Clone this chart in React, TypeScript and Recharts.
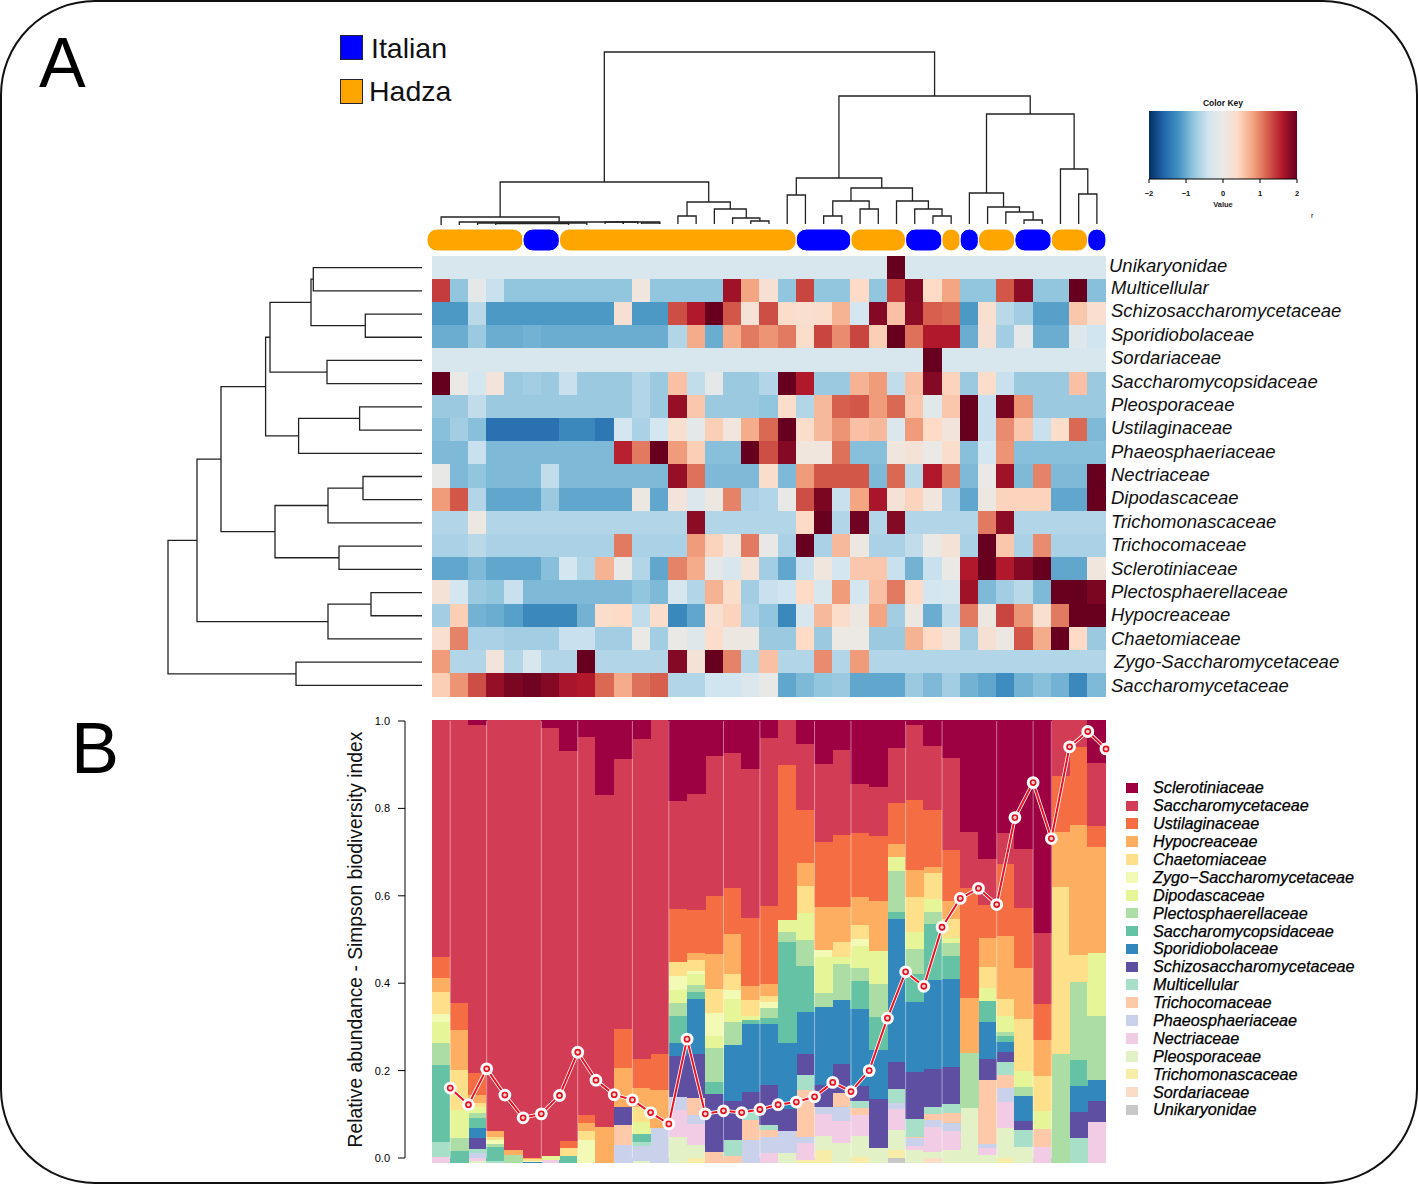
import React from 'react';
import { BarChart, Bar, Cell, XAxis, YAxis, LineChart, Line, ReferenceLine, ScatterChart, Scatter } from 'recharts';

const FONT = '"Liberation Sans", Arial, sans-serif';

// Panel A: heatmap rows, z-scores
const unikaryonidaeZ = [-.3,-.3,-.3,-.3,-.3,-.3,-.3,-.3,-.3,-.3,-.3,-.3,-.3,-.3,-.3,-.3,-.3,-.3,-.3,-.3,-.3,-.3,-.3,-.3,-.3,2,-.3,-.3,-.3,-.3,-.3,-.3,-.3,-.3,-.3,-.3,-.3];
const multicellularZ = [1.4,-.8,-.1,-.45,-.8,-.8,-.8,-.8,-.8,-.8,-.8,.1,-.8,-.8,-.8,-.8,1.7,.8,.25,-.8,1.35,-.8,-.8,.4,-.8,1.4,1.85,.4,.8,-.8,-.8,1.25,1.8,-.8,-.8,2,-.85];
const schizoZ = [-1.15,-1.15,-.55,-1.15,-1.15,-1.15,-1.15,-1.15,-1.15,-1.15,.25,-1.15,-1.15,1.3,1.6,2,1.25,.2,1.3,.35,.3,.35,.7,-.35,1.85,.6,1.8,1.2,1.15,-1.15,.3,-.55,-.7,-1.1,-1.1,.55,.3];
const sporidioZ = [-1,-1,-.75,-1,-1,-.95,-1,-1,-1,-1,-1,-1,-1,-.6,.75,-1,.75,1.05,.9,1.05,.35,1.35,.95,1.35,.5,2,1.1,1.6,1.6,-1,.25,-.7,-.1,-1,-1,-.2,-.4];
const sordariaceaeZ = [-.3,-.3,-.3,-.3,-.3,-.3,-.3,-.3,-.3,-.3,-.3,-.3,-.3,-.3,-.3,-.3,-.3,-.3,-.3,-.3,-.3,-.3,-.3,-.3,-.3,-.3,-.3,2,-.3,-.3,-.3,-.3,-.3,-.3,-.3,-.3,-.3];
const saccharomycopsZ = [2,0,-.35,.15,-.75,-.7,-.75,-.45,-.75,-.75,-.75,-.6,-.75,.6,-.5,-.1,-.75,-.75,-.6,2,1.6,-.75,-.75,.7,.85,-.5,.6,1.85,.45,-.75,.35,-.45,-.75,-.75,-.75,.6,-.75];
const pleosporaceaeZ = [-.75,-.75,-.5,-.75,-.75,-.75,-.75,-.75,-.75,-.75,-.75,-.6,-.75,1.75,.55,-.75,-.75,-.75,-.8,.35,-.6,.65,1.2,1.25,.85,1.15,.55,-.15,.55,2,-.45,1.9,.9,-.75,-.75,-.75,-.75];
const ustilaginaceaeZ = [-.85,-.7,-.85,-1.5,-1.5,-1.5,-1.5,-1.3,-1.3,-1.45,-.35,-.65,-.35,.3,-.1,.5,.1,.75,1.15,2,.35,.65,.9,.6,.65,-.25,.85,.4,.15,2,-.45,.95,.55,-.45,.35,1.15,-.9];
const phaeoZ = [-.9,-.9,-.45,-.9,-.9,-.9,-.9,-.9,-.9,-.9,1.55,1.05,2,.85,.5,-.85,-.85,2,1.3,1.85,.1,.1,1.1,-.85,-.85,.1,.2,0,.35,-.85,-.35,.9,-.85,-.85,-.85,-.85,-.85];
const nectriaceaeZ = [-.05,-.9,-.8,-.9,-.9,-.9,-.5,-.9,-.9,-.9,-.9,-.9,-.9,1.75,1.1,-.9,-.9,-.9,.35,-.9,.85,1.25,1.25,1.25,-.9,1.15,-.55,1.6,1.05,-.9,0,1.7,-.9,1,-.9,-.9,2];
const dipodascaceaeZ = [.85,1.25,-.6,-1.05,-1.05,-1.05,-.75,-1.05,-1.05,-1.05,-1.05,.05,-1.05,.15,-.25,.05,1,-.65,-.6,-.05,1.3,1.9,-.45,.8,1.65,.2,.45,.1,-.65,-1.05,.05,.45,.45,.45,-1.05,-1.05,2];
const trichomonasZ = [-.6,-.6,.05,-.6,-.6,-.6,-.6,-.6,-.6,-.6,-.6,-.6,-.6,-.6,1.8,-.6,-.6,-.6,-.6,-.6,.4,2,-.6,1.95,-.6,1.85,-.6,-.6,-.6,-.6,1.05,1.8,-.6,-.6,-.6,-.6,-.6];
const trichocomaceaeZ = [-.65,-.65,-.55,-.65,-.65,-.65,-.65,-.65,-.65,-.65,1.05,-.65,-.65,-.65,.85,.45,.1,1.05,-.05,-.65,2,-.65,.65,.05,-.65,-.65,-.5,0,.2,-.65,2,.55,-.65,.95,-.65,-.65,-.65];
const sclerotiniaceaeZ = [-1.05,-1.05,-.9,-1.05,-1.05,-1.05,-.85,-.35,-.6,.7,-.05,-.6,-1.05,1,.75,-.1,-.3,.2,-.7,-1.05,-.45,.1,-.35,.55,.55,-.45,-.95,-.45,0,1.6,2,1.6,1.85,2,-1.05,-1.05,.1];
const plectoZ = [.2,-.35,-.75,-.8,-.45,-.9,-.9,-.9,-.9,-.9,-.9,-.8,-.9,-.3,-.6,.7,.35,-.7,-.45,-.4,.4,-.3,.85,-.35,.6,1.05,.4,-.35,-.3,1.7,-.9,-.7,-.55,-.9,2,2,1.9];
const hypocreaceaeZ = [-.7,.5,-.95,-1,-1.1,-1.3,-1.3,-1.3,-.95,.35,.4,-.5,.35,-1.3,-1.05,.3,.45,-.65,-.8,-1.3,-.3,.65,.35,.05,.8,-.7,.05,-1,-.5,1.05,.05,1.35,.9,.3,1.05,2,2];
const chaetomiaceaeZ = [.3,1,-.65,-.65,-.7,-.7,-.7,-.45,-.45,-.7,-.7,0,-.7,0,-.2,.35,.05,.05,-.75,-.75,.4,-.75,.02,.02,-.75,-.75,.7,.4,.15,-.7,.25,.05,1.25,.75,2,.4,-.75];
const zygoZ = [.85,-.6,-.6,.15,-.6,-.3,-.6,-.6,2,-.6,-.6,-.6,-.6,1.85,.2,2,1,-.6,.6,-.6,-.6,.95,-.6,.85,-.6,-.6,-.6,-.6,-.6,-.6,-.6,-.6,-.6,-.6,-.6,-.6,-.6];
const saccharomycetaceaeZ = [.5,.9,1.3,1.75,1.9,1.95,1.85,1.65,1.6,1.15,.75,1.1,1.2,-.6,-.6,-.4,-.4,-.25,-.05,-1.05,-.9,-.8,-.75,-1.05,-1.05,-1.05,-.75,-.9,-.7,-.95,-1.05,-1.25,-.95,-.85,-.95,-1.3,-.9];

const heatRows = [
  { name: 'Unikaryonidae', z: unikaryonidaeZ },
  { name: 'Multicellular', z: multicellularZ },
  { name: 'Schizosaccharomycetaceae', z: schizoZ },
  { name: 'Sporidiobolaceae', z: sporidioZ },
  { name: 'Sordariaceae', z: sordariaceaeZ },
  { name: 'Saccharomycopsidaceae', z: saccharomycopsZ },
  { name: 'Pleosporaceae', z: pleosporaceaeZ },
  { name: 'Ustilaginaceae', z: ustilaginaceaeZ },
  { name: 'Phaeosphaeriaceae', z: phaeoZ },
  { name: 'Nectriaceae', z: nectriaceaeZ },
  { name: 'Dipodascaceae', z: dipodascaceaeZ },
  { name: 'Trichomonascaceae', z: trichomonasZ },
  { name: 'Trichocomaceae', z: trichocomaceaeZ },
  { name: 'Sclerotiniaceae', z: sclerotiniaceaeZ },
  { name: 'Plectosphaerellaceae', z: plectoZ },
  { name: 'Hypocreaceae', z: hypocreaceaeZ },
  { name: 'Chaetomiaceae', z: chaetomiaceaeZ },
  { name: 'Zygo-Saccharomycetaceae', z: zygoZ },
  { name: 'Saccharomycetaceae', z: saccharomycetaceaeZ },
];

// colour key stops, -2 to 2
const RDBU = ['#053061', '#2166ac', '#4393c3', '#92c5de', '#d1e5f0', '#ebe9e6', '#fddbc7', '#f4a582', '#d6604d', '#b2182b', '#67001f'];

// Sample groups along the top of the heatmap, in columns
const groupSizes = [5.27, 2, 13, 3, 3, 2, 1, 1, 2, 2, 2, 1];
const groupColors = ['#ffa500', '#0000ff', '#ffa500', '#0000ff', '#ffa500', '#0000ff', '#ffa500', '#0000ff', '#ffa500', '#0000ff', '#ffa500', '#0000ff'];

// Column dendrogram: [left column, right column, height, left child height, right child height]
const columnBranches = [
  [0, 6.48, 8, 0, 3], [1, 12, 3, 0, 1], [2, 8, 2, 0, 0], [3, 7, 1.5, 0, 0], [9, 10, 3, 1, 1], [10, 10.8, 3, 1, 1], [11, 12, 2, 1, 1],
  [13, 14, 9, 1, 1], [17, 18, 4, 1, 1], [16, 17.5, 7, 1, 4], [15, 16.75, 16, 1, 7], [13.5, 15.875, 23, 9, 16], [3.24, 14.69, 43, 8, 23],
  [19, 20, 30, 1, 1], [21, 22, 9, 1, 1], [23, 24, 16, 1, 1], [21.5, 23.5, 24, 9, 16], [27, 28, 9, 1, 1], [26, 27.5, 16, 1, 9], [25, 26.75, 24, 1, 16],
  [22.5, 25.875, 37, 24, 24], [19.5, 24.19, 47, 30, 37], [32, 33, 5, 1, 1], [31, 32.5, 13, 1, 5], [30, 31.75, 18, 1, 13], [29, 30.875, 32, 1, 18],
  [35, 36, 31, 1, 1], [34, 35.5, 56, 1, 31], [29.94, 34.75, 111, 32, 56], [21.84, 32.34, 129, 47, 111], [8.96, 27.09, 173, 43, 129],
];

// Row dendrogram: [upper row, lower row, height, upper child height, lower child height]
const rowBranches = [
  [0, 1, 108.7, 0, 0], [2, 3, 56.7, 0, 0], [.5, 2.5, 111, 108.7, 56.7], [4, 5, 95, 0, 0], [1.5, 4.5, 152, 111, 95],
  [6, 7, 62.4, 0, 0], [6.5, 8, 123.4, 62.4, 0], [3, 7.25, 156.4, 152, 123.4], [9, 10, 59, 0, 0], [9.5, 11, 94, 59, 0],
  [12, 13, 83, 0, 0], [10.25, 12.5, 147, 94, 83], [5.125, 11.375, 201, 156.4, 147], [14, 15, 51, 0, 0], [14.5, 16, 94, 51, 0],
  [8.25, 15.25, 225, 201, 94], [17, 18, 126, 0, 0], [11.75, 17.5, 254, 225, 126],
];

// Panel B: relative abundance per sample, top of the stack first
const sclerotiniaceae = [0,0,4,0,0,0,7,30,16,74,38,19,0,80,73,35,32,48,17,0,23,43,29,63,66,27,4,25,37,111,138,112,128,212,0,0,42];
const saccharomycetaceae = [236,282,348,410,429,437,428,390,378,332,270,320,333,108,116,140,135,149,168,44,66,78,85,49,49,55,75,64,92,56,46,31,59,71,55,26,63];
const ustilaginaceae = [21,27,22,0,0,0,0,7,8,0,39,29,36,53,43,58,46,68,78,155,53,65,72,64,65,41,70,57,51,110,33,72,60,36,56,78,21];
const hypocreaceae = [14,40,8,6,5,1,0,0,8,37,39,19,38,0,7,35,40,14,12,0,23,43,35,28,50,13,27,6,18,55,29,63,51,36,55,130,106];
const chaetomiaceae = [22,40,4,3,0,2,0,8,9,0,0,15,0,14,11,24,16,16,6,0,27,0,15,14,0,0,35,26,19,0,21,17,52,35,167,27,0];
const zygoSaccharomycetaceae = [8,0,0,4,0,1,0,0,24,0,0,0,0,14,3,23,9,0,6,0,0,7,0,7,0,0,0,0,0,0,0,0,0,0,0,0,0];
const dipodascaceae = [21,28,6,0,0,0,4,0,0,0,0,12,0,13,11,12,23,4,0,12,27,36,7,22,33,14,17,13,5,0,13,16,16,18,0,0,63];
const plectosphaerellaceae = [22,13,5,3,9,0,0,0,0,0,0,0,0,13,7,34,23,0,10,10,26,14,36,13,33,41,25,12,13,55,0,4,9,0,110,78,64];
const saccharomycopsidaceae = [77,13,10,14,0,0,0,8,0,0,0,8,0,27,7,12,0,4,6,101,46,0,0,28,33,7,28,56,23,0,21,6,0,0,0,26,0];
const sporidiobolaceae = [0,0,10,0,0,2,0,0,0,0,0,0,0,13,55,0,56,68,61,66,42,78,64,77,49,143,70,89,88,0,37,10,25,0,0,26,21];
const schizosaccharomycetaceae = [0,0,11,0,0,0,0,0,0,0,18,0,0,41,44,58,39,20,40,22,21,22,29,15,49,27,47,38,37,0,21,10,9,0,0,26,21];
const multicellular = [15,0,4,3,0,0,0,0,0,0,0,4,0,0,0,0,16,8,5,0,15,0,0,7,0,14,18,7,9,0,0,13,17,0,0,26,0];
const trichocomaceae = [0,0,0,0,0,0,0,0,0,0,20,0,0,0,17,12,8,20,7,0,47,0,14,7,0,0,1,6,10,0,64,13,0,18,0,0,0];
const phaeosphaeriaceae = [0,0,5,0,0,0,0,0,0,0,19,15,36,13,9,0,0,24,16,22,6,7,14,0,0,6,8,7,8,0,4,14,0,0,0,0,0];
const nectriaceae = [7,0,3,0,0,0,4,0,0,0,0,0,0,27,21,0,0,0,11,0,17,22,22,21,0,21,4,25,19,0,7,26,0,17,0,0,42];
const pleosporaceae = [0,0,2,0,0,0,0,0,0,0,0,3,0,27,13,0,0,0,0,11,0,14,21,21,16,20,14,6,14,56,9,30,17,0,0,0,0];
const trichomonascaceae = [0,0,0,0,0,0,0,0,0,0,0,0,0,0,6,0,0,0,0,0,4,14,0,7,0,8,0,0,0,0,0,6,0,0,0,0,0];
const sordariaceae = [0,0,0,0,0,0,0,0,0,0,0,0,0,0,0,0,0,0,0,0,0,0,0,0,0,0,0,6,0,0,0,0,0,0,0,0,0];
const unikaryonidae = [0,0,0,0,0,0,0,0,0,0,0,0,0,0,0,0,0,0,0,0,0,0,0,0,0,6,0,0,0,0,0,0,0,0,0,0,0];

const simpson = [.16,.122,.204,.144,.092,.101,.143,.242,.178,.145,.133,.104,.078,.272,.101,.108,.104,.111,.122,.128,.14,.173,.152,.2,.32,.426,.393,.528,.594,.617,.58,.779,.859,.731,.941,.976,.936];

// Column edges that show a thin pale rule in the stacked bars
const sampleBreaks = [1, 3, 6, 8, 11, 13, 16, 18, 21, 23, 26, 28, 31, 33, 34];

const families = [
  { name: 'Sclerotiniaceae', color: '#9e0142', values: sclerotiniaceae },
  { name: 'Saccharomycetaceae', color: '#d23c55', values: saccharomycetaceae },
  { name: 'Ustilaginaceae', color: '#f46d43', values: ustilaginaceae },
  { name: 'Hypocreaceae', color: '#fdae61', values: hypocreaceae },
  { name: 'Chaetomiaceae', color: '#fee08b', values: chaetomiaceae },
  { name: 'Zygo\u2212Saccharomycetaceae', color: '#f3fab5', values: zygoSaccharomycetaceae },
  { name: 'Dipodascaceae', color: '#e6f598', values: dipodascaceae },
  { name: 'Plectosphaerellaceae', color: '#abdda4', values: plectosphaerellaceae },
  { name: 'Saccharomycopsidaceae', color: '#66c2a5', values: saccharomycopsidaceae },
  { name: 'Sporidiobolaceae', color: '#3288bd', values: sporidiobolaceae },
  { name: 'Schizosaccharomycetaceae', color: '#5e4fa2', values: schizosaccharomycetaceae },
  { name: 'Multicellular', color: '#a8dfc9', values: multicellular },
  { name: 'Trichocomaceae', color: '#fdc9a8', values: trichocomaceae },
  { name: 'Phaeosphaeriaceae', color: '#c9d2ea', values: phaeosphaeriaceae },
  { name: 'Nectriaceae', color: '#f2cce4', values: nectriaceae },
  { name: 'Pleosporaceae', color: '#e2f2c6', values: pleosporaceae },
  { name: 'Trichomonascaceae', color: '#f8eda8', values: trichomonascaceae },
  { name: 'Sordariaceae', color: '#fbdcc6', values: sordariaceae },
  { name: 'Unikaryonidae', color: '#c8c8c8', values: unikaryonidae },
];

const NO_MARGIN = { top: 0, right: 0, bottom: 0, left: 0 };

const hexToRgb = (hex: string) => [1, 3, 5].map((i) => parseInt(hex.slice(i, i + 2), 16));

// z-score to heatmap colour, same ramp as the colour key
const zColor = (z: number) => {
  const pos = ((Math.max(-2, Math.min(2, z)) + 2) / 4) * (RDBU.length - 1);
  const i = Math.min(Math.floor(pos), RDBU.length - 2);
  const a = hexToRgb(RDBU[i]);
  const b = hexToRgb(RDBU[i + 1]);
  const c = a.map((v, k) => Math.round(v + (b[k] - v) * (pos - i)));
  return `rgb(${c[0]},${c[1]},${c[2]})`;
};

const heatData = unikaryonidaeZ.map((_, col) => {
  const row: Record<string, number> = { col };
  heatRows.forEach((_r, i) => {
    row[`r${i}`] = 1;
  });
  return row;
});

const stackData = sclerotiniaceae.map((_, col) => {
  const row: Record<string, number> = { col };
  families.forEach((f) => {
    row[f.name] = f.values[col];
  });
  return row;
});

const simpsonData = simpson.map((value, i) => ({ pos: i + 1, value }));

const at = (left: number, top: number): React.CSSProperties => ({ position: 'absolute', left, top });

const NoMark = () => <g />;

const RowLabel = ({ x, y, payload }: any) => {
  const name = heatRows[payload.value].name;
  const shift = name === 'Unikaryonidae' ? -2 : name === 'Zygo-Saccharomycetaceae' ? 3 : 0;
  const lift = name === 'Unikaryonidae' ? 1.5 : 0;
  return (
    <text x={x - 3 + shift} y={y + 6.5 + lift} fontFamily={FONT} fontStyle="italic" fontSize={18.5} fill="#111">
      {name}
    </text>
  );
};

const ColumnDendrogram = () => (
  <ScatterChart width={674} height={175} margin={NO_MARGIN}>
    <XAxis type="number" dataKey="x" domain={[-0.5, 36.5]} hide />
    <YAxis type="number" dataKey="y" domain={[0, 175]} hide />
    {columnBranches.map(([a, b, h, ha, hb], i) => (
      <Scatter
        key={i}
        data={[{ x: a, y: ha }, { x: a, y: h }, { x: b, y: h }, { x: b, y: hb }]}
        line={{ stroke: '#222', strokeWidth: 1.3 }}
        shape={NoMark}
        isAnimationActive={false}
      />
    ))}
  </ScatterChart>
);

const RowDendrogram = () => (
  <ScatterChart width={257} height={441} margin={NO_MARGIN}>
    <XAxis type="number" dataKey="x" domain={[0, 257]} reversed hide />
    <YAxis type="number" dataKey="y" domain={[-0.5, 18.5]} reversed hide />
    {rowBranches.map(([a, b, h, ha, hb], i) => (
      <Scatter
        key={i}
        data={[{ y: a, x: ha }, { y: a, x: h }, { y: b, x: h }, { y: b, x: hb }]}
        line={{ stroke: '#222', strokeWidth: 1.3 }}
        shape={NoMark}
        isAnimationActive={false}
      />
    ))}
  </ScatterChart>
);

const GroupBar = () => {
  const row: Record<string, any> = { name: 'group' };
  groupSizes.forEach((s, i) => {
    row[`g${i}`] = s;
  });
  return (
    <BarChart width={680} height={22} layout="vertical" data={[row]} margin={NO_MARGIN} barCategoryGap={0}>
      <XAxis type="number" domain={[0, 37.33]} hide />
      <YAxis type="category" dataKey="name" hide />
      {groupSizes.map((_, i) => (
        <Bar key={i} dataKey={`g${i}`} stackId="g" fill={groupColors[i]} stroke="#fff" strokeWidth={1} radius={10} isAnimationActive={false} />
      ))}
    </BarChart>
  );
};

const Heatmap = () => (
  <BarChart width={934} height={441} data={heatData} margin={NO_MARGIN} barCategoryGap={0}>
    <XAxis dataKey="col" hide />
    <YAxis yAxisId="cells" type="number" domain={[0, 19]} reversed hide />
    <YAxis
      yAxisId="labels"
      orientation="right"
      type="number"
      width={260}
      domain={[-0.349, 18.513]}
      allowDataOverflow
      reversed
      ticks={heatRows.map((_, i) => i)}
      interval={0}
      axisLine={false}
      tickLine={false}
      tick={RowLabel}
    />
    {heatRows.map((row, i) => (
      <Bar key={row.name} yAxisId="cells" dataKey={`r${i}`} stackId="heat" isAnimationActive={false}>
        {row.z.map((z, col) => (
          <Cell key={col} fill={zColor(z)} stroke={zColor(z)} strokeWidth={1} />
        ))}
      </Bar>
    ))}
  </BarChart>
);

const ColorKey = () => (
  <BarChart
    width={158}
    height={96}
    layout="vertical"
    data={[{ name: 'key', range: [-2, 2] }]}
    margin={{ top: 0, right: 5, bottom: 0, left: 5 }}
    barCategoryGap={0}
  >
    <defs>
      <linearGradient id="rdbu" x1="0" y1="0" x2="1" y2="0">
        {RDBU.map((c, i) => (
          <stop key={c} offset={i / (RDBU.length - 1)} stopColor={c} />
        ))}
      </linearGradient>
    </defs>
    <XAxis
      type="number"
      domain={[-2, 2]}
      ticks={[-2, -1, 0, 1, 2]}
      height={28}
      tickSize={4}
      tickMargin={8}
      stroke="#000"
      tickFormatter={(v: number) => (v < 0 ? `\u2212${-v}` : `${v}`)}
      tick={{ fontFamily: FONT, fontSize: 7.5, fontWeight: 700, fill: '#111' }}
    />
    <YAxis type="category" dataKey="name" hide />
    <Bar dataKey="range" fill="url(#rdbu)" isAnimationActive={false} />
  </BarChart>
);

const AbundanceBars = () => (
  <BarChart width={674} height={443} data={stackData} margin={NO_MARGIN} barCategoryGap={0} stackOffset="expand">
    <XAxis dataKey="col" hide />
    <YAxis type="number" domain={[0, 1]} hide />
    {[...families].reverse().map((f) => (
      <Bar key={f.name} dataKey={f.name} stackId="s" fill={f.color} stroke={f.color} strokeWidth={1} isAnimationActive={false} />
    ))}
  </BarChart>
);

const SimpsonLine = () => (
  <LineChart width={781} height={457} data={simpsonData} margin={{ top: 10, right: 10, bottom: 10, left: 0 }}>
    <XAxis type="number" dataKey="pos" domain={[-1.4835, 37]} hide />
    <YAxis
      type="number"
      domain={[0, 1]}
      ticks={[0, 0.2, 0.4, 0.6, 0.8, 1]}
      width={70}
      stroke="#000"
      tickSize={7}
      tickMargin={8}
      tickFormatter={(v: number) => v.toFixed(1)}
      tick={{ fontFamily: FONT, fontSize: 11, fill: '#000' }}
      label={{
        value: 'Relative abundance - Simpson biodiversity index',
        angle: -90,
        position: 'insideLeft',
        offset: 20,
        style: { textAnchor: 'middle', fontFamily: FONT, fontSize: 19.3, fill: '#111' },
      }}
    />
    {sampleBreaks.map((b) => (
      <ReferenceLine key={b} x={b} stroke="#fff" strokeOpacity={0.45} strokeWidth={1} />
    ))}
    <Line dataKey="value" stroke="#fff" strokeWidth={3.6} dot={{ r: 4.6, fill: '#fff', stroke: '#fff' }} isAnimationActive={false} />
    <Line dataKey="value" stroke="#ee1122" strokeWidth={2} dot={{ r: 2.6, fill: '#fbd0d0', stroke: '#e8101c', strokeWidth: 1.6 }} isAnimationActive={false} />
  </LineChart>
);

const App = () => (
  <div style={{ position: 'absolute', left: 0, top: 0, width: 1418, height: 1184, background: '#fff', fontFamily: FONT, overflow: 'hidden' }}>
    <div style={{ ...at(0, 0), width: 1418, height: 1184, boxSizing: 'border-box', border: '2px solid #111', borderRadius: 95 }} />

    <div style={{ ...at(39, 23), fontSize: 70, lineHeight: '80px', color: '#000' }}>A</div>
    <div style={{ ...at(71, 708), fontSize: 72, lineHeight: '80px', color: '#000' }}>B</div>

    <div style={{ ...at(340, 35), width: 23, height: 25, boxSizing: 'border-box', background: '#0000ff', border: '1px solid #223' }} />
    <div style={{ ...at(371, 30), fontSize: 28.5, lineHeight: '36px', color: '#111' }}>Italian</div>
    <div style={{ ...at(340, 79), width: 23, height: 25, boxSizing: 'border-box', background: '#ffa500', border: '1px solid #223' }} />
    <div style={{ ...at(369, 73), fontSize: 28.5, lineHeight: '36px', color: '#111' }}>Hadza</div>

    <div style={{ ...at(432, 50) }}><ColumnDendrogram /></div>
    <div style={{ ...at(165, 256) }}><RowDendrogram /></div>
    <div style={{ ...at(427, 229) }}><GroupBar /></div>
    <div style={{ ...at(432, 256), shapeRendering: 'crispEdges' }}><Heatmap /></div>

    <div style={{ ...at(1144, 111) }}><ColorKey /></div>
    <div style={{ ...at(1173, 98), width: 100, textAlign: 'center', fontSize: 8.5, lineHeight: '10px', fontWeight: 700, color: '#111' }}>Color Key</div>
    <div style={{ ...at(1173, 200), width: 100, textAlign: 'center', fontSize: 7.5, lineHeight: '10px', fontWeight: 700, color: '#222' }}>Value</div>
    <div style={{ ...at(1311, 211), fontSize: 7, lineHeight: '10px', color: '#000' }}>r</div>

    <div style={{ ...at(432, 720), shapeRendering: 'crispEdges' }}><AbundanceBars /></div>
    <div style={{ ...at(335, 711) }}><SimpsonLine /></div>

    <div style={{ ...at(1126, 779) }}>
      {families.map((f) => (
        <div key={f.name} style={{ height: 17.9, display: 'flex', alignItems: 'center' }}>
          <span style={{ width: 12, height: 10.5, background: f.color, marginRight: 15 }} />
          <span style={{ fontSize: 16.2, fontStyle: 'italic', color: '#000', WebkitTextStroke: '0.25px #000', whiteSpace: 'nowrap' }}>{f.name}</span>
        </div>
      ))}
    </div>
  </div>
);

export default App;
